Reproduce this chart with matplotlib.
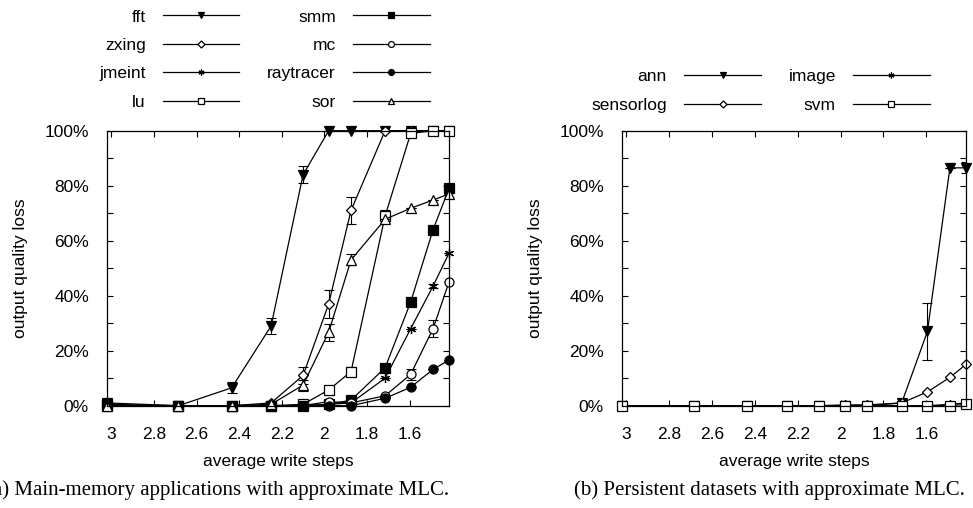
import matplotlib
matplotlib.use("Agg")
import matplotlib.pyplot as plt
from matplotlib.ticker import FixedLocator, MultipleLocator, FuncFormatter

plt.rcParams['font.family'] = ['Liberation Sans', 'DejaVu Sans']

# average write steps (x positions of the samples)
steps = [3.02, 2.685, 2.435, 2.25, 2.10, 1.98, 1.875, 1.715, 1.595, 1.49, 1.415]

# (a) main-memory applications, output quality loss in %
fft = [1, 0, 6.5, 29, 84, 100, 100, 100, 100, 100, 100]
zxing = [0, 0, 0, 1, 11, 37, 71, 100, 100, 100, 100]
jmeint = [0, 0, 0, 0, 0, 0.5, 1, 10, 28, 43.5, 55.5]
lu = [0, 0, 0, 0, 0.5, 5.7, 12.4, 69, 99, 100, 100]
smm = [0.5, 0, 0, 0, 0, 0.5, 2, 13.8, 37.7, 64, 79]
mc = [0, 0, 0, 0, 0, 1.5, 1, 3.6, 11.4, 28, 45]
raytracer = [0, 0, 0, 0, 0, 0, 0, 2.7, 6.7, 13.2, 16.6]
sor = [0, 0, 0, 0.5, 7.5, 26.7, 53, 67.8, 71.8, 74.8, 77]

fft_err = [0, 0, 2, 3, 3, 0, 0, 0, 0, 0, 0]
zxing_err = [0, 0, 0, 0, 3, 5, 5, 0, 0, 0, 0]
jmeint_err = [0, 0, 0, 0, 0, 0, 0, 0, 0, 0.8, 0]
lu_err = [0, 0, 0, 0, 0, 1, 1.5, 2, 0, 0, 0]
smm_err = [0, 0, 0, 0, 0, 0, 0, 0, 0, 0, 0]
mc_err = [0, 0, 0, 0, 0, 0, 0, 0, 2, 3, 0]
raytracer_err = [0, 0, 0, 0, 0, 0, 0, 0, 0, 0, 0]
sor_err = [0, 0, 0, 0, 2, 3, 2, 0, 0, 0, 0]

# (b) persistent datasets
ann = [0, 0, 0, 0, 0, 0, 0, 1, 27, 86.5, 86.5]
sensorlog = [0, 0, 0, 0, 0, 0.3, 0.3, 1, 5, 10.3, 15]
image = [0, 0, 0, 0, 0, 0, 0, 0, 0, 0.5, 1]
svm = [0, 0, 0, 0, 0, 0, 0, 0, 0, 0, 0.5]

ann_err = [0, 0, 0, 0, 0, 0, 0, 0, 10.3, 0, 2]
zero_err = [0] * len(steps)

xticks = [3, 2.8, 2.6, 2.4, 2.2, 2, 1.8, 1.6]

asterisk = (6, 2, 0)

series_a = [
    ("fft", fft, fft_err, "v", True),
    ("zxing", zxing, zxing_err, "D", False),
    ("jmeint", jmeint, jmeint_err, asterisk, False),
    ("lu", lu, lu_err, "s", False),
    ("smm", smm, smm_err, "s", True),
    ("mc", mc, mc_err, "o", False),
    ("raytracer", raytracer, raytracer_err, "o", True),
    ("sor", sor, sor_err, "^", False),
]
series_b = [
    ("ann", ann, ann_err, "v", True),
    ("sensorlog", sensorlog, zero_err, "D", False),
    ("image", image, zero_err, asterisk, False),
    ("svm", svm, zero_err, "s", False),
]

FS = 12.5


def draw(ax, series):
    handles = []
    for name, ys, err, mk, filled in series:
        ms = 5.5 if mk == "D" else 6.5
        ax.errorbar(steps, ys, yerr=err, fmt="none", ecolor="black",
                    elinewidth=0.8, capsize=3.5, capthick=0.8)
        h, = ax.plot(steps, ys, color="black", lw=0.9, marker=mk, ms=ms,
                     mfc="black" if filled else "white", mec="black", mew=0.9,
                     label=name, clip_on=False)
        handles.append(h)
    ax.set_xlim(steps[0], steps[-1])
    ax.set_ylim(0, 100)
    ax.xaxis.set_major_locator(FixedLocator(xticks))
    ax.xaxis.set_major_formatter(FuncFormatter(lambda v, p: "%g" % v))
    ax.yaxis.set_major_locator(MultipleLocator(20))
    ax.yaxis.set_minor_locator(MultipleLocator(10))
    ax.yaxis.set_major_formatter(FuncFormatter(lambda v, p: "%d%%" % v))
    ax.tick_params(which="both", direction="in", top=True, right=True,
                   length=4.5, width=0.8, labelsize=FS)
    ax.tick_params(axis="x", pad=15)
    ax.tick_params(axis="y", pad=13)
    for s in ax.spines.values():
        s.set_linewidth(0.9)
    ax.set_xlabel("average write steps", fontsize=FS, labelpad=9)
    ax.set_ylabel("output quality loss", fontsize=FS, labelpad=12)
    return handles


fig = plt.figure(figsize=(9.73, 5.08), dpi=100)
ax1 = fig.add_axes([0.110, 0.2014, 0.3515, 0.5413])
ax2 = fig.add_axes([0.6393, 0.2014, 0.3535, 0.5413])

h1 = draw(ax1, series_a)
h2 = draw(ax2, series_b)

leg_kw = dict(ncol=2, markerfirst=False, frameon=False, fontsize=FS,
              handlelength=4.4, handletextpad=1.0, columnspacing=1.6,
              labelspacing=0.76, markerscale=0.65, borderpad=0,
              loc="center")
fig.legend(handles=h1, bbox_to_anchor=(0.2718, 0.8829), **leg_kw)
fig.legend(handles=h2, bbox_to_anchor=(0.7816, 0.8209), **leg_kw)

fig.text(449 / 973, 1 - 490 / 508,
         "(a) Main-memory applications with approximate MLC.",
         family=["Liberation Serif", "DejaVu Serif"], fontsize=15,
         ha="right", va="center")
fig.text(574 / 973, 1 - 490 / 508,
         "(b) Persistent datasets with approximate MLC.",
         family=["Liberation Serif", "DejaVu Serif"], fontsize=15,
         ha="left", va="center")

fig.savefig("out.png", dpi=100)
